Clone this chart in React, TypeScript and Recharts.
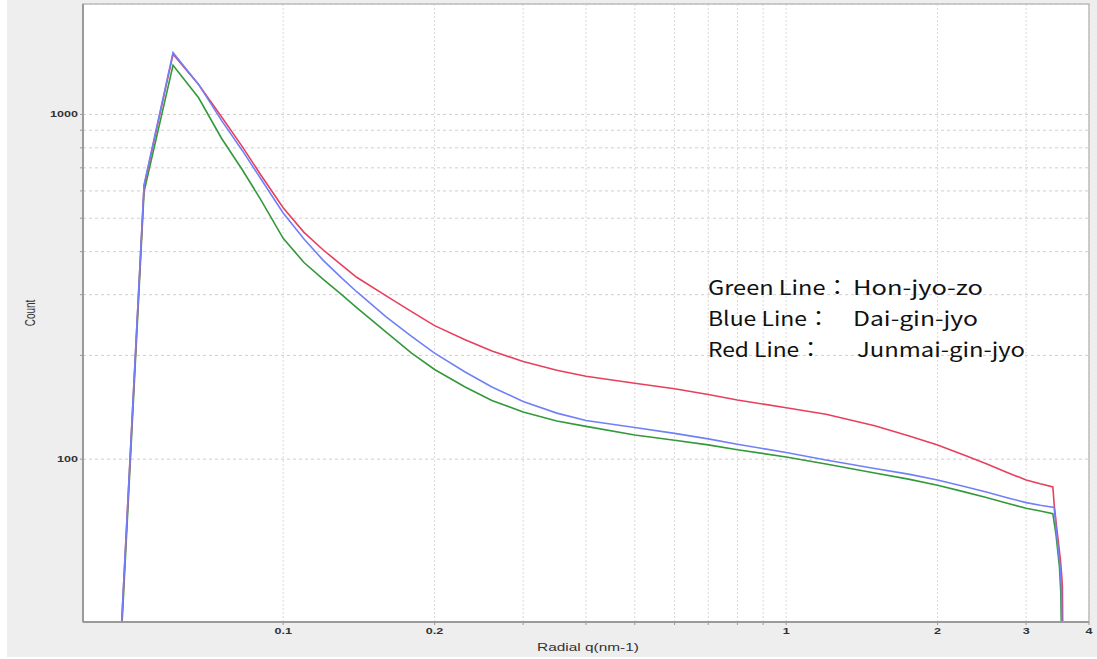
import React from "react";
import { LineChart, Line, XAxis, YAxis, CartesianGrid, ReferenceArea } from "recharts";

// Radial scattering profiles (q in nm-1, counts)
const BODY_Q = [0.0454, 0.0529, 0.0604, 0.0679, 0.0754, 0.083, 0.09, 0.1, 0.11, 0.12, 0.13, 0.14, 0.16, 0.18, 0.2, 0.23, 0.26, 0.3, 0.35, 0.4, 0.5, 0.6, 0.7, 0.8, 1.0, 1.2, 1.5, 1.75, 2.0, 2.25, 2.5, 2.75, 3.0, 3.2];

const RED_V = [8, 620, 1494, 1222, 985, 805, 672, 536, 455, 405, 368, 337, 298, 268, 244, 222, 206, 192, 181, 174, 166, 160, 154, 148.5, 141, 135, 125, 117, 110, 103, 97, 91.5, 87, 84.8];
const BLUE_V = [8, 625, 1511, 1222, 961, 785, 655, 518, 435, 378, 338, 306, 259, 227, 203, 179, 162, 147, 136, 129.5, 123.5, 118.8, 114.5, 110.5, 104.5, 99.5, 94, 90.5, 87, 83.5, 80.3, 77.3, 74.8, 73.5];
const GREEN_V = [7.5, 597, 1388, 1118, 853, 690, 570, 437, 372, 333, 302, 275, 234, 203, 182, 162, 148, 137, 129, 124.5, 117.5, 113.5, 110, 106.5, 101.5, 96.8, 91.2, 87.5, 84, 80.5, 77.4, 74.5, 72, 70.7];

// cut-off at the detector edge
const RED_TAIL_Q = [3.39, 3.41, 3.46, 3.51, 3.53, 3.542, 3.555];
const RED_TAIL_V = [83.1, 74, 61, 51, 46, 42.5, 20];
const BLUE_TAIL_Q = [3.41, 3.452, 3.505, 3.526, 3.545];
const BLUE_TAIL_V = [72.4, 60, 48.6, 42.5, 20];
const GREEN_TAIL_Q = [3.39, 3.441, 3.494, 3.516, 3.54];
const GREEN_TAIL_V = [69.5, 60, 48.6, 41, 20];

const X_TICKS = [0.1, 0.2, 0.3, 0.4, 0.5, 0.6, 0.7, 0.8, 0.9, 1, 2, 3, 4];
const X_LABELED = [0.1, 0.2, 1, 2, 3, 4];
const Y_TICKS = [100, 200, 300, 400, 500, 600, 700, 800, 900, 1000];
const Y_LABELED = [100, 1000];

const X_DOMAIN = [0.04, 4];
const Y_DOMAIN = [33.7, 2091];

const RED = "#e8405c";
const BLUE = "#6f80f8";
const GREEN = "#34993a";
const AXIS = "#9a9a9a";
const FONT = "'Liberation Sans', Arial, sans-serif";
const JP_FONT = "'Noto Sans CJK JP', sans-serif";

const toPoints = (q: number[], v: number[], tq: number[], tv: number[]) =>
  [...q, ...tq].map((x, i) => ({ q: x, v: i < v.length ? v[i] : tv[i - v.length] }));

const tickText = { fontSize: 9, fontWeight: 700, fill: "#333", fontFamily: FONT };

// the source image is stretched sideways, so the labels are widened to match
function XTick({ x, y, payload }: any) {
  if (!X_LABELED.includes(payload.value)) return <g />;
  return (
    <g transform={`translate(${x},${y})`}>
      <text x={0} y={0} dy={7} textAnchor="middle" transform="scale(1.4,1)" style={tickText}>
        {String(payload.value)}
      </text>
    </g>
  );
}

function YTick({ x, y, payload }: any) {
  if (!Y_LABELED.includes(payload.value)) return <g />;
  return (
    <g transform={`translate(${x},${y})`}>
      <text x={0} y={0} dy={3} textAnchor="end" transform="scale(1.4,1)" style={tickText}>
        {String(payload.value)}
      </text>
    </g>
  );
}

const LEGEND = [
  { label: "Green Line：", labelW: 141, name: "Hon-jyo-zo", nameX: 853, nameW: 130, y: 295 },
  { label: "Blue Line：", labelW: 122, name: "Dai-gin-jyo", nameX: 853, nameW: 125, y: 326 },
  { label: "Red Line：", labelW: 114, name: "Junmai-gin-jyo", nameX: 857, nameW: 168, y: 357 },
];

export default function App() {
  return (
    <div style={{ position: "absolute", left: 0, top: 0, width: 1097, height: 659, background: "#fff" }}>
      <div style={{ position: "absolute", left: 7, top: 0, width: 1090, height: 657, background: "#eeeeee" }} />
      <div style={{ position: "absolute", left: 0, top: 0 }}>
        <LineChart width={1097} height={659} margin={{ top: 4, right: 8, bottom: 3, left: 23 }}>
          <CartesianGrid vertical={false} stroke="#cfcfcf" strokeDasharray="3 3" fill="#ffffff" />
          <CartesianGrid horizontal={false} stroke="#d9d9d9" strokeDasharray="2 2" />
          <XAxis
            dataKey="q"
            type="number"
            scale="log"
            domain={X_DOMAIN}
            allowDataOverflow
            ticks={X_TICKS}
            interval={0}
            height={34}
            tickSize={3}
            tick={<XTick />}
            axisLine={{ stroke: AXIS, strokeWidth: 2 }}
            tickLine={{ stroke: AXIS }}
          />
          <YAxis
            type="number"
            scale="log"
            domain={Y_DOMAIN}
            allowDataOverflow
            ticks={Y_TICKS}
            interval={0}
            width={60}
            tickSize={3}
            tick={<YTick />}
            axisLine={{ stroke: AXIS, strokeWidth: 2 }}
            tickLine={{ stroke: AXIS }}
          />
          <ReferenceArea
            x1={X_DOMAIN[0]}
            x2={X_DOMAIN[1]}
            y1={Y_DOMAIN[0]}
            y2={Y_DOMAIN[1]}
            fill="none"
            stroke="#bdbdbd"
            strokeWidth={1.5}
            ifOverflow="visible"
          />
          <Line data={toPoints(BODY_Q, GREEN_V, GREEN_TAIL_Q, GREEN_TAIL_V)} dataKey="v" stroke={GREEN} strokeWidth={1.6} dot={false} isAnimationActive={false} />
          <Line data={toPoints(BODY_Q, RED_V, RED_TAIL_Q, RED_TAIL_V)} dataKey="v" stroke={RED} strokeWidth={1.6} dot={false} isAnimationActive={false} />
          <Line data={toPoints(BODY_Q, BLUE_V, BLUE_TAIL_Q, BLUE_TAIL_V)} dataKey="v" stroke={BLUE} strokeWidth={1.6} dot={false} isAnimationActive={false} />
        </LineChart>
      </div>
      <svg width={1097} height={659} style={{ position: "absolute", left: 0, top: 0, pointerEvents: "none" }}>
        <text transform="translate(588,651) scale(1.4,1)" textAnchor="middle" fontSize={11} fill="#333" fontFamily={FONT}>
          Radial q(nm-1)
        </text>
        <text transform="translate(35,313) rotate(-90) scale(1,1.4)" textAnchor="middle" fontSize={10} fill="#333" fontFamily={FONT}>
          Count
        </text>
        {LEGEND.map((l) => (
          <g key={l.name} fontSize={20} fill="#111" fontFamily={JP_FONT}>
            <text x={708} y={l.y} textLength={l.labelW} lengthAdjust="spacingAndGlyphs">{l.label}</text>
            <text x={l.nameX} y={l.y} textLength={l.nameW} lengthAdjust="spacingAndGlyphs">{l.name}</text>
          </g>
        ))}
      </svg>
    </div>
  );
}
